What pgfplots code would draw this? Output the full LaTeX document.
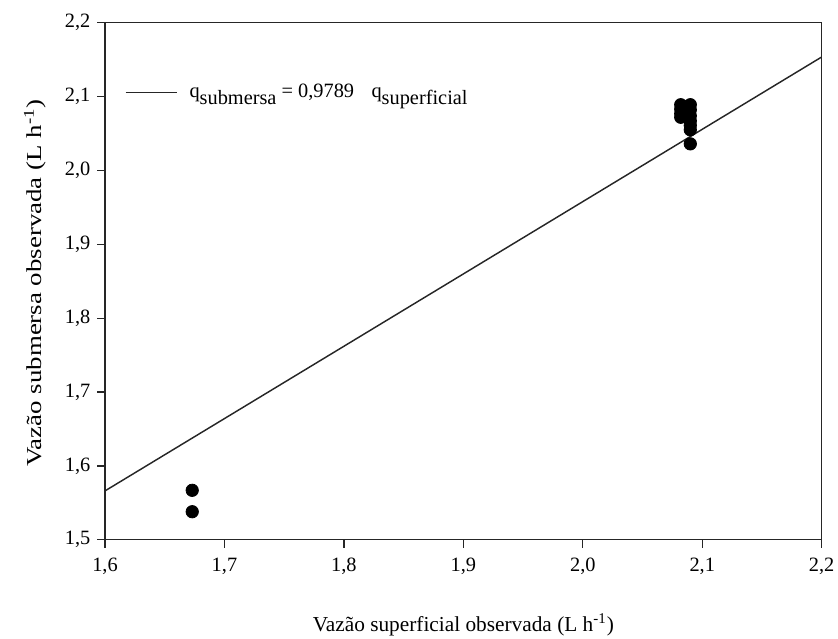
\documentclass[border=0pt]{standalone}
\usepackage{fontspec}
\setmainfont{Liberation Serif}
\usepackage{pgfplots}
\pgfplotsset{compat=1.18}
\usetikzlibrary{calc}

\begin{document}
\begin{tikzpicture}
\begin{axis}[
  scale only axis, width=13.0cm, height=9.38cm,
  xmin=1.6, xmax=2.2, ymin=1.5, ymax=2.2,
  xtick={1.6,1.7,...,2.2}, ytick={1.5,1.6,...,2.2},
  tick align=outside, tick pos=left, major tick length=4pt,
  axis line style={line width=0.7pt, black!85},
  every tick/.style={line width=0.7pt, black!85},
  /pgf/number format/.cd, use comma, fixed, fixed zerofill, precision=1, assume math mode=true,
  /pgfplots/.cd,
  tick label style={font=\fontsize{10.5}{12}\selectfont},
  xticklabel style={yshift=-2pt},
  label style={font=\fontsize{11}{12}\selectfont},
  xlabel={Vazão superficial observada (L h\textsuperscript{-1})},
  ylabel={\scalebox{1.26}[1]{Vazão submersa observada (L h\textsuperscript{-1})}},
  x label style={at={(axis description cs:0.5,-0.164)}, anchor=center},
  y label style={at={(axis description cs:-0.0976,0.497)}, anchor=center},
  legend style={draw=none, fill=none, at={(0.019,0.8647)}, anchor=west,
    font=\fontsize{10.5}{12}\selectfont},
  legend image code/.code={\draw[#1] (0cm,0cm) -- (0.936cm,0cm);},
]
  \coordinate (sw) at (rel axis cs:0,0);
  \coordinate (ne) at (rel axis cs:1,1);
  \addplot[black!85, line width=0.75pt] coordinates {(1.6,1.5662) (2.2,2.1536)};
  \addlegendentry{\hspace{4pt}q\raisebox{-3.5pt}{submersa} = 0,9789\hspace{9pt}q\raisebox{-3.5pt}{superficial}}
  \addplot[only marks, mark=*, mark size=3.2pt, black] coordinates {
    (1.673,1.567) (1.673,1.538)
    (2.082,2.089) (2.082,2.083) (2.082,2.077) (2.082,2.072)
    (2.090,2.089) (2.090,2.082) (2.090,2.074) (2.090,2.067) (2.090,2.061) (2.090,2.055) (2.090,2.036)
  };
\end{axis}
\pgfresetboundingbox
\path[use as bounding box] ($(sw)+(-1.905cm,-1.796cm)$) rectangle ($(ne)+(0.296cm,0.412cm)$);
\end{tikzpicture}
\end{document}
